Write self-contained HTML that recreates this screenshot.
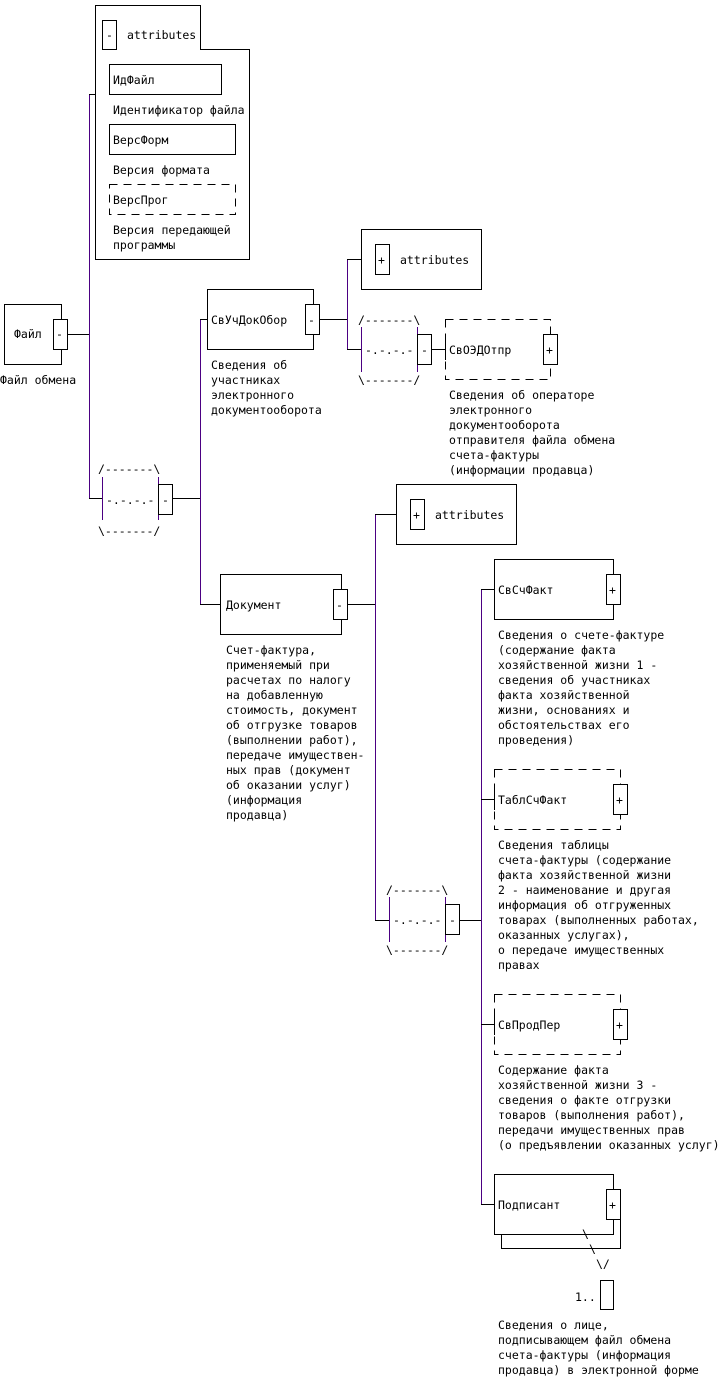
<!DOCTYPE html>
<html><head><meta charset="utf-8"><style>
html,body{margin:0;padding:0;background:#fff;}
svg{display:block;}
text{font-family:"DejaVu Sans Mono","Liberation Mono",monospace;font-size:11.5px;fill:#000;dominant-baseline:central;}
.b{fill:#fff;stroke:#000;stroke-width:1;}
.d{fill:#fff;stroke:#000;stroke-width:1;stroke-dasharray:8,6;}
.l{stroke:#000;stroke-width:1;fill:none;}
.v{stroke:#4b0082;stroke-width:1;fill:none;}
</style></head><body>
<svg width="723" height="1381" viewBox="0 0 723 1381" xmlns="http://www.w3.org/2000/svg">
<!-- Файл -->
<rect class="b" x="4.5" y="304.5" width="57" height="60"/>
<text x="14" y="334">Файл</text>
<rect class="b" x="53.5" y="319.5" width="14" height="30"/><text x="56" y="334">-</text>
<text x="0" y="380">Файл обмена</text>
<line class="l" x1="67" y1="334.5" x2="89" y2="334.5"/>
<line class="v" x1="89.5" y1="94" x2="89.5" y2="498"/>
<line class="l" x1="89" y1="94.5" x2="95" y2="94.5"/>
<!-- attributes 1 -->
<path class="b" d="M95.5 259.5 V5.5 H200.5 V49.5 H249.5 V259.5 Z"/>
<rect class="b" x="102.5" y="20.5" width="14" height="29"/><text x="106" y="35">-</text>
<text x="127" y="35">attributes</text>
<rect class="b" x="109.5" y="64.5" width="112" height="30"/><text x="113" y="80">ИдФайл</text>
<text x="113" y="110">Идентификатор файла</text>
<rect class="b" x="109.5" y="124.5" width="126" height="30"/><text x="113" y="140">ВерсФорм</text>
<text x="113" y="170">Версия формата</text>
<rect class="d" x="109.5" y="184.5" width="126" height="30"/><text x="113" y="200">ВерсПрог</text>
<text x="113" y="230">Версия передающей</text>
<text x="113" y="245">программы</text>
<!-- sequence 1 -->
<line class="l" x1="89" y1="498.5" x2="102" y2="498.5"/>
<text x="98" y="469">/-------\</text>
<line class="v" x1="102.5" y1="477" x2="102.5" y2="520"/>
<text x="106" y="500">-.-.-.-</text>
<line class="v" x1="158.5" y1="477" x2="158.5" y2="520"/>
<rect class="b" x="158.5" y="484.5" width="14" height="30"/><text x="162" y="500">-</text>
<text x="98" y="531">\-------/</text>
<line class="l" x1="172" y1="498.5" x2="200" y2="498.5"/>
<line class="v" x1="200.5" y1="319" x2="200.5" y2="604"/>
<!-- СвУчДокОбор -->
<line class="l" x1="200" y1="319.5" x2="207" y2="319.5"/>
<rect class="b" x="207.5" y="289.5" width="106" height="60"/>
<text x="211" y="320">СвУчДокОбор</text>
<rect class="b" x="305.5" y="304.5" width="14" height="30"/><text x="308" y="320">-</text>
<text x="211" y="365">Сведения об</text>
<text x="211" y="380">участниках</text>
<text x="211" y="395">электронного</text>
<text x="211" y="410">документооборота</text>
<line class="l" x1="319" y1="319.5" x2="347" y2="319.5"/>
<line class="v" x1="347.5" y1="259" x2="347.5" y2="349"/>
<line class="l" x1="347" y1="259.5" x2="361" y2="259.5"/>
<rect class="b" x="361.5" y="229.5" width="120" height="60"/>
<rect class="b" x="375.5" y="244.5" width="14" height="30"/><text x="378" y="260">+</text>
<text x="400" y="260">attributes</text>
<!-- sequence 2 -->
<line class="l" x1="347" y1="349.5" x2="361" y2="349.5"/>
<text x="358" y="320">/-------\</text>
<line class="v" x1="361.5" y1="327" x2="361.5" y2="372"/>
<text x="365" y="350">-.-.-.-</text>
<line class="v" x1="417.5" y1="327" x2="417.5" y2="372"/>
<rect class="b" x="417.5" y="334.5" width="14" height="30"/><text x="421" y="350">-</text>
<text x="358" y="380">\-------/</text>
<line class="l" x1="431" y1="349.5" x2="445" y2="349.5"/>
<rect class="d" x="445.5" y="319.5" width="105" height="60"/>
<line class="l" x1="445.5" y1="340" x2="445.5" y2="360"/>
<text x="449" y="350">СвОЭДОтпр</text>
<rect class="b" x="543.5" y="334.5" width="14" height="30"/><text x="546" y="350">+</text>
<text x="449" y="395">Сведения об операторе</text>
<text x="449" y="410">электронного</text>
<text x="449" y="425">документооборота</text>
<text x="449" y="440">отправителя файла обмена</text>
<text x="449" y="455">счета-фактуры</text>
<text x="449" y="470">(информации продавца)</text>
<!-- Документ -->
<line class="l" x1="200" y1="604.5" x2="220" y2="604.5"/>
<rect class="b" x="220.5" y="574.5" width="121" height="60"/>
<text x="226" y="605">Документ</text>
<rect class="b" x="333.5" y="589.5" width="14" height="30"/><text x="336" y="605">-</text>
<text x="226" y="650">Счет-фактура,</text>
<text x="226" y="665">применяемый при</text>
<text x="226" y="680">расчетах по налогу</text>
<text x="226" y="695">на добавленную</text>
<text x="226" y="710">стоимость, документ</text>
<text x="226" y="725">об отгрузке товаров</text>
<text x="226" y="740">(выполнении работ),</text>
<text x="226" y="755">передаче имуществен-</text>
<text x="226" y="770">ных прав (документ</text>
<text x="226" y="785">об оказании услуг)</text>
<text x="226" y="800">(информация</text>
<text x="226" y="815">продавца)</text>
<line class="l" x1="347" y1="604.5" x2="375" y2="604.5"/>
<line class="v" x1="375.5" y1="514" x2="375.5" y2="920"/>
<line class="l" x1="375" y1="514.5" x2="396" y2="514.5"/>
<rect class="b" x="396.5" y="484.5" width="120" height="60"/>
<rect class="b" x="410.5" y="499.5" width="14" height="30"/><text x="413" y="515">+</text>
<text x="435" y="515">attributes</text>
<!-- sequence 3 -->
<line class="l" x1="375" y1="920.5" x2="389" y2="920.5"/>
<text x="386" y="890">/-------\</text>
<line class="v" x1="389.5" y1="897" x2="389.5" y2="942"/>
<text x="393" y="920">-.-.-.-</text>
<line class="v" x1="445.5" y1="897" x2="445.5" y2="942"/>
<rect class="b" x="445.5" y="904.5" width="14" height="30"/><text x="449" y="920">-</text>
<text x="386" y="950">\-------/</text>
<line class="l" x1="459" y1="920.5" x2="481" y2="920.5"/>
<line class="v" x1="481.5" y1="589" x2="481.5" y2="1204"/>
<!-- СвСчФакт -->
<line class="l" x1="481" y1="589.5" x2="494" y2="589.5"/>
<rect class="b" x="494.5" y="559.5" width="119" height="60"/>
<text x="498" y="590">СвСчФакт</text>
<rect class="b" x="606.5" y="574.5" width="14" height="30"/><text x="609" y="590">+</text>
<text x="498" y="635">Сведения о счете-фактуре</text>
<text x="498" y="650">(содержание факта</text>
<text x="498" y="665">хозяйственной жизни 1 -</text>
<text x="498" y="680">сведения об участниках</text>
<text x="498" y="695">факта хозяйственной</text>
<text x="498" y="710">жизни, основаниях и</text>
<text x="498" y="725">обстоятельствах его</text>
<text x="498" y="740">проведения)</text>
<!-- ТаблСчФакт -->
<line class="l" x1="481" y1="799.5" x2="494" y2="799.5"/>
<rect class="d" x="494.5" y="769.5" width="126" height="60"/>
<line class="l" x1="494.5" y1="790" x2="494.5" y2="810"/>
<text x="498" y="800">ТаблСчФакт</text>
<rect class="b" x="613.5" y="784.5" width="14" height="30"/><text x="616" y="800">+</text>
<text x="498" y="845">Сведения таблицы</text>
<text x="498" y="860">счета-фактуры (содержание</text>
<text x="498" y="875">факта хозяйственной жизни</text>
<text x="498" y="890">2 - наименование и другая</text>
<text x="498" y="905">информация об отгруженных</text>
<text x="498" y="920">товарах (выполненных работах,</text>
<text x="498" y="935">оказанных услугах),</text>
<text x="498" y="950">о передаче имущественных</text>
<text x="498" y="965">правах</text>
<!-- СвПродПер -->
<line class="l" x1="481" y1="1024.5" x2="494" y2="1024.5"/>
<rect class="d" x="494.5" y="994.5" width="126" height="60"/>
<line class="l" x1="494.5" y1="1015" x2="494.5" y2="1035"/>
<text x="498" y="1025">СвПродПер</text>
<rect class="b" x="613.5" y="1009.5" width="14" height="30"/><text x="616" y="1025">+</text>
<text x="498" y="1070">Содержание факта</text>
<text x="498" y="1085">хозяйственной жизни 3 -</text>
<text x="498" y="1100">сведения о факте отгрузки</text>
<text x="498" y="1115">товаров (выполнения работ),</text>
<text x="498" y="1130">передачи имущественных прав</text>
<text x="498" y="1145">(о предъявлении оказанных услуг)</text>
<!-- Подписант -->
<line class="l" x1="481" y1="1204.5" x2="494" y2="1204.5"/>
<rect class="b" x="501.5" y="1189.5" width="119" height="59"/>
<rect class="b" x="494.5" y="1174.5" width="119" height="60"/>
<text x="498" y="1205">Подписант</text>
<rect class="b" x="606.5" y="1189.5" width="14" height="30"/><text x="609" y="1205">+</text>
<text x="582" y="1234" style="fill:#000">\</text>
<text x="589" y="1249">\</text>
<text x="596" y="1264">\/</text>
<text x="575" y="1297">1..</text>
<rect class="b" x="600.5" y="1280.5" width="13" height="29"/>
<text x="498" y="1325">Сведения о лице,</text>
<text x="498" y="1340">подписывающем файл обмена</text>
<text x="498" y="1355">счета-фактуры (информация</text>
<text x="498" y="1370">продавца) в электронной форме</text>
</svg>
</body></html>
